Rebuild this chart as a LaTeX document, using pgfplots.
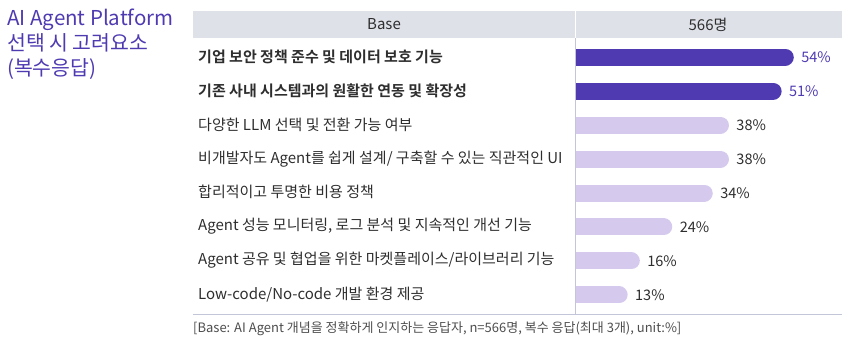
\documentclass[border=0pt]{standalone}
\usepackage{fontspec}
\setmainfont{Noto Sans CJK KR}[BoldFont={Noto Sans CJK KR Bold}]
\usepackage{pgfplots}
\pgfplotsset{compat=1.18}
\definecolor{hi}{HTML}{4F3AB2}
\definecolor{lo}{HTML}{D5C9EE}
\definecolor{hdr}{HTML}{DFE1E8}
\definecolor{grid}{HTML}{C3C5D9}
\definecolor{txt}{HTML}{2E2E2E}
\begin{document}
\begin{tikzpicture}[x=1pt,y=1pt]
\useasboundingbox (0,0) rectangle (864,353);
% header band
\fill[hdr] (193,353-11) rectangle (842,353-38);
\draw[white,line width=1pt] (575,353-11) -- (575,353-38);
\node[txt,font=\fontsize{15}{17}\selectfont] at (384,353-24.5) {Base};
\node[txt,font=\fontsize{15}{17}\selectfont] at (708,353-24.5) {566명};
% title
\node[hi,anchor=north west,align=left,font=\fontsize{20.5}{25}\selectfont,inner sep=0pt] at (7,353-9) {AI Agent Platform\\선택 시 고려요소\\(복수응답)};
% footnote
\node[txt!85,anchor=west,inner sep=0pt,font=\fontsize{13}{15}\selectfont] at (193,353-329) {[Base: AI Agent 개념을 정확하게 인지하는 응답자, n=566명, 복수 응답(최대 3개), unit:\%]};
\begin{axis}[
  at={(575pt,39pt)}, anchor=south west,
  width=267pt, height=276pt, scale only axis,
  xmin=0, xmax=65.9,
  ymin=0.441, ymax=8.559, y dir=reverse,
  axis lines=none,
  clip=true,
  ytick=\empty, xtick=\empty,
  nodes near coords,
  point meta=explicit symbolic,
  every node near coord/.append style={anchor=west, xshift=7.5pt, font=\fontsize{14.5}{16}\selectfont, inner sep=0pt},
]
\addplot[xcomb, hi, line width=17pt, line cap=round, xshift=-8.5pt, every node near coord/.append style={hi}] coordinates {(54,1) [54\%] (51,2) [51\%]};
\addplot[xcomb, lo, line width=17pt, line cap=round, xshift=-8.5pt, every node near coord/.append style={txt}] coordinates {(38,3) [38\%] (38,4) [38\%] (34,5) [34\%] (24,6) [24\%] (16,7) [16\%] (13,8) [13\%]};
\end{axis}
% lines
\draw[grid,line width=0.9pt] (575,353-38) -- (575,353-314);
\draw[grid,line width=0.9pt] (193,353-314) -- (842,353-314);
% category labels
\begin{scope}[every node/.style={anchor=west,inner sep=0pt,font=\fontsize{15}{17}\selectfont,txt}]
\node[font=\fontsize{15}{17}\selectfont\bfseries] at (198,353-57) {기업 보안 정책 준수 및 데이터 보호 기능};
\node[font=\fontsize{15}{17}\selectfont\bfseries] at (198,353-91) {기존 사내 시스템과의 원활한 연동 및 확장성};
\node at (198,353-125) {다양한 LLM 선택 및 전환 가능 여부};
\node at (198,353-159) {비개발자도 Agent를 쉽게 설계/ 구축할 수 있는 직관적인 UI};
\node at (198,353-192) {합리적이고 투명한 비용 정책};
\node at (198,353-226) {Agent 성능 모니터링, 로그 분석 및 지속적인 개선 기능};
\node at (198,353-260) {Agent 공유 및 협업을 위한 마켓플레이스/라이브러리 기능};
\node at (198,353-295) {Low-code/No-code 개발 환경 제공};
\end{scope}
\end{tikzpicture}
\end{document}
